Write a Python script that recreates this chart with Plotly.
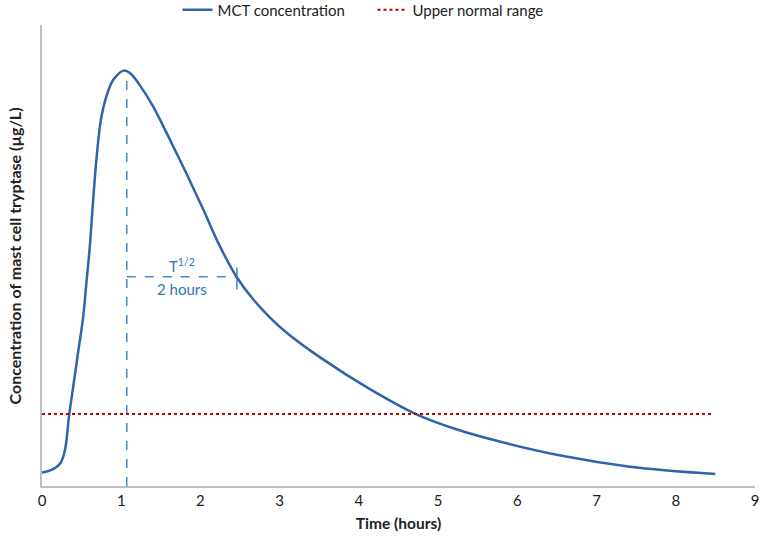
import plotly.graph_objects as go

# MCT concentration curve (arbitrary units)
time_hours = [0.0, 0.12, 0.23, 0.29, 0.34, 0.40, 0.46, 0.52, 0.56, 0.60, 0.65, 0.69, 0.75,
              0.84, 0.90, 1.03, 1.11, 1.24, 1.40, 1.61, 1.82, 2.03, 2.24, 2.455, 2.665,
              2.875, 3.085, 3.51, 4.14, 4.72, 5.23, 5.74, 6.58, 7.42, 8.5]
concentration = [2.9, 3.5, 4.9, 7.8, 15.0, 22.3, 29.5, 36.7, 44.0, 51.2, 63.0, 71.4, 80.1,
                 85.9, 88.1, 90.1, 89.6, 86.8, 82.4, 75.3, 67.9, 60.2, 52.2, 45.4, 40.5,
                 36.6, 33.3, 27.9, 21.0, 15.6, 12.3, 9.8, 6.5, 4.2, 2.6]

# Upper normal range
normal_x = [0.0, 8.45]
normal_y = [15.6, 15.6]

# Peak and half-life markers
peak_x = [1.07, 1.07]
peak_y = [0.0, 90.1]
half_x = [1.07, 2.46]
half_y = [45.4, 45.4]
half_tick_x = [2.46, 2.46]
half_tick_y = [42.6, 47.4]

x_ticks = [0, 1, 2, 3, 4, 5, 6, 7, 8, 9]

curve_color = '#2f64ad'
guide_color = '#4a86c8'
text_color = '#2e75b6'
font_family = 'Lato, Open Sans, sans-serif'

fig = go.Figure()
fig.add_trace(go.Scatter(x=peak_x, y=peak_y, mode='lines', showlegend=False, hoverinfo='skip',
                         line=dict(color=guide_color, width=1.5, dash='dash')))
fig.add_trace(go.Scatter(x=half_x, y=half_y, mode='lines', showlegend=False, hoverinfo='skip',
                         line=dict(color=guide_color, width=1.5, dash='dash')))
fig.add_trace(go.Scatter(x=half_tick_x, y=half_tick_y, mode='lines', showlegend=False, hoverinfo='skip',
                         line=dict(color=guide_color, width=1.5)))
fig.add_trace(go.Scatter(x=time_hours, y=concentration, mode='lines', name='MCT concentration',
                         line=dict(color=curve_color, width=2.5, shape='spline', smoothing=1.0)))
fig.add_trace(go.Scatter(x=normal_x, y=normal_y, mode='lines', name='Upper normal range',
                         line=dict(color='#c00000', width=2, dash='dot')))

# T1/2 label
fig.add_annotation(x=(half_x[0] + half_x[1]) / 2, y=half_y[0], text='T<sup>1/2</sup>', showarrow=False,
                   yanchor='bottom', yshift=0, font=dict(color=text_color, size=15, family=font_family))
fig.add_annotation(x=(half_x[0] + half_x[1]) / 2, y=half_y[0], text='2 hours', showarrow=False,
                   yanchor='top', yshift=-1, font=dict(color=text_color, size=15, family=font_family))

# Y axis title placed by hand so it does not push the plot area
fig.add_annotation(xref='paper', yref='paper', x=-0.038, y=0.5, xanchor='center', yanchor='middle',
                   textangle=-90, showarrow=False,
                   text='<b>Concentration of mast cell tryptase (µg/L)</b>',
                   font=dict(size=16, color='#222222', family=font_family))

fig.update_xaxes(range=[0, 9], tickvals=x_ticks, showgrid=False, zeroline=False,
                 showline=True, linecolor='#c0c0c0', linewidth=1.5, ticks='',
                 title=dict(text='<b>Time (hours)</b>', standoff=10, font=dict(size=15.5)),
                 tickfont=dict(size=15, color='#222222'))
fig.update_yaxes(range=[0, 100], showgrid=False, zeroline=False, showticklabels=False,
                 showline=True, linecolor='#c0c0c0', linewidth=1.5, ticks='')
fig.update_layout(
    width=765, height=550,
    margin=dict(l=42, r=10, t=25, b=64, autoexpand=False),
    plot_bgcolor='white', paper_bgcolor='white',
    font=dict(family=font_family, size=14, color='#222222'),
    legend=dict(orientation='h', x=0.19, xanchor='left', yref='container', y=0.982, yanchor='middle',
                entrywidth=150, font=dict(size=15), bgcolor='rgba(0,0,0,0)'),
)

# Drop the default page margin so the figure sits at the window corner
fig.write_html('out.html', config={'displayModeBar': False},
               post_script='document.body.style.margin = "0";')
